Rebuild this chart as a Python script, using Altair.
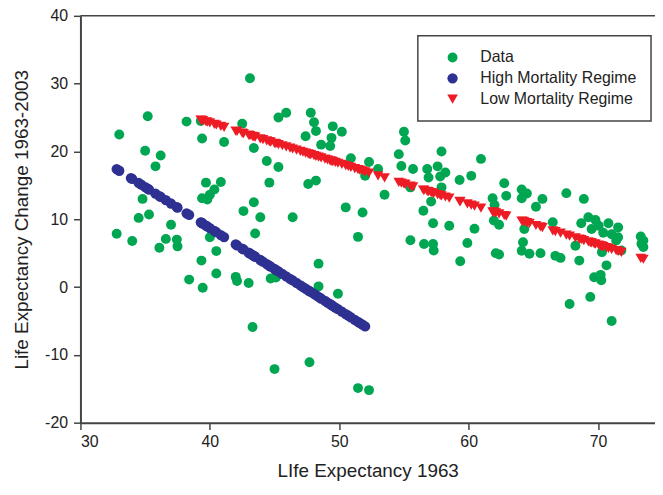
import altair as alt
import pandas as pd

# ---- data ----
data_x = [33.0, 35.2, 35.0, 36.2, 35.8, 34.8, 34.5, 35.3, 37.0, 32.8, 34.0, 36.1, 36.6, 37.45, 37.5,
          38.2, 39.3, 39.4, 41.1, 42.5, 43.1, 43.4, 44.4, 45.3, 45.3, 45.9, 44.6, 39.7, 40.85, 40.35,
          40.0, 39.4, 39.8, 43.4, 42.6, 43.9, 46.4, 40.0, 43.5, 40.5, 39.35, 40.5, 38.4, 39.45, 42.0,
          42.1, 43.0, 44.7, 45.1, 43.3, 45.0, 47.8, 48.05, 48.2, 49.5, 50.2, 47.4, 49.4, 48.6, 49.3,
          50.9, 52.3, 53.0, 52.0, 47.6, 48.2, 53.5, 50.5, 51.8, 51.45, 48.4, 48.4, 49.9, 47.7, 51.45,
          52.3, 55.0, 55.1, 54.6, 54.8, 55.7, 57.9, 56.8, 57.6, 58.2, 56.9, 57.8, 59.3, 60.2, 57.9,
          55.5, 57.1, 56.5, 57.25, 58.5, 55.5, 56.55, 57.25, 57.3, 59.9, 59.35, 60.95, 62.75, 62.9, 64.1,
          64.5, 64.1, 65.7, 65.2, 67.55, 68.9, 61.85, 62.0, 66.5, 69.25, 69.8, 70.8, 71.55, 68.7, 70.4,
          69.5, 70.05, 60.45, 62.35, 61.95, 64.3, 73.3, 62.1, 62.35, 64.2, 64.1, 64.7, 65.55, 66.7, 67.1,
          68.55, 68.25, 70.3, 71.8, 71.4, 70.65, 69.7, 70.2, 70.25, 69.4, 67.8, 71.05, 73.35, 73.5, 73.5,
          71.05, 71.55]
data_y = [22.5, 25.2, 20.1, 19.4, 17.8, 13.0, 10.2, 10.7, 9.2, 7.85, 6.8, 5.8, 7.1, 7.0, 6.0,
          24.4, 24.5, 21.9, 21.4, 24.1, 30.8, 20.5, 18.6, 17.7, 25.0, 25.7, 15.4, 15.4, 15.5, 14.4,
          13.6, 13.1, 12.9, 12.5, 11.2, 10.3, 10.3, 7.35, 7.9, 5.3, 3.9, 2.0, 1.1, -0.1, 1.5,
          0.9, 0.6, 1.25, 1.4, -5.9, -12.1, 25.7, 24.3, 23.0, 23.7, 22.9, 22.25, 22.0, 21.0, 20.8,
          19.0, 18.45, 17.4, 16.4, 15.2, 15.7, 13.6, 11.75, 11.0, 7.4, 3.45, 0.1, -1.0, -11.1, -14.9,
          -15.2, 22.9, 21.6, 19.6, 17.85, 17.4, 20.0, 17.4, 17.8, 16.9, 16.15, 16.3, 15.8, 16.4, 14.7,
          14.7, 12.6, 11.25, 9.4, 9.05, 6.9, 6.35, 6.35, 5.4, 6.5, 3.8, 18.9, 15.3, 13.45, 14.4,
          13.8, 13.1, 13.0, 11.85, 13.85, 13.0, 13.1, 12.1, 9.55, 10.3, 9.9, 9.4, 8.8, 9.4, 8.0,
          8.55, 9.05, 8.6, 9.2, 9.8, 8.55, 7.45, 5.0, 4.8, 6.6, 5.35, 4.9, 5.0, 4.6, 4.3,
          3.9, 6.1, 5.15, 5.4, 6.85, 3.2, 1.45, 1.8, 1.0, -1.45, -2.5, -5.0, 6.4, 5.9, 6.85,
          7.8, 7.35]

high_x = [32.8, 33.0, 33.9, 34.0, 34.5, 34.7, 35.0, 35.2, 35.3, 35.8, 36.1, 36.2, 36.6, 37.0, 37.45,
          37.5, 38.2, 38.4, 39.3, 39.35, 39.4, 39.45, 39.7, 39.8, 40.0, 40.35, 40.5, 40.85, 41.1, 42.0,
          42.1, 42.5, 42.6, 43.0, 43.1, 43.3, 43.4, 43.5, 43.9, 44.1, 44.4, 44.6, 44.7, 45.0, 45.1,
          45.3, 45.6, 45.9, 46.2, 46.4, 46.7, 47.0, 47.2, 47.4, 47.6, 47.7, 47.8, 48.05, 48.2, 48.4,
          48.6, 48.9, 49.1, 49.3, 49.4, 49.5, 49.7, 49.9, 50.2, 50.5, 50.7, 50.9, 51.2, 51.45, 51.6,
          51.8, 52.0]
high_y = [17.4, 17.15, 16.07, 15.95, 15.35, 15.1, 14.74, 14.5, 14.38, 13.77, 13.41, 13.29, 12.81, 12.32, 11.78,
          11.72, 10.87, 10.63, 9.55, 9.49, 9.42, 9.36, 9.06, 8.94, 8.7, 8.28, 8.1, 7.67, 7.37, 6.28,
          6.16, 5.68, 5.56, 5.08, 4.95, 4.71, 4.59, 4.47, 3.99, 3.75, 3.39, 3.14, 3.02, 2.66, 2.54,
          2.3, 1.94, 1.57, 1.21, 0.97, 0.6, 0.24, 0.0, -0.24, -0.48, -0.6, -0.72, -1.02, -1.2, -1.45,
          -1.69, -2.05, -2.29, -2.53, -2.65, -2.77, -3.02, -3.26, -3.62, -3.98, -4.22, -4.47, -4.83, -5.13, -5.31,
          -5.55, -5.8]

low_x = [39.3, 39.35, 39.4, 39.45, 39.7, 39.8, 40.0, 40.35, 40.5, 40.85, 41.1, 42.0, 42.1, 42.5, 42.6,
         43.0, 43.1, 43.3, 43.4, 43.5, 43.9, 44.1, 44.4, 44.6, 44.7, 45.0, 45.1, 45.3, 45.6, 45.9,
         46.2, 46.4, 46.7, 47.0, 47.2, 47.4, 47.6, 47.7, 47.8, 48.05, 48.2, 48.4, 48.6, 48.9, 49.1,
         49.3, 49.4, 49.5, 49.7, 49.9, 50.2, 50.5, 50.7, 50.9, 51.2, 51.45, 51.6, 51.8, 52.0, 52.3,
         53.0, 53.5, 54.6, 54.8, 55.0, 55.1, 55.5, 55.7, 56.5, 56.55, 56.8, 56.9,
         57.1, 57.25, 57.3, 57.6, 57.8, 57.9, 58.2, 58.5, 59.3, 59.35, 59.9, 60.2, 60.45, 60.95, 61.85,
         61.95, 62.0, 62.1, 62.35, 62.75, 62.9, 64.1, 64.2, 64.3, 64.5, 64.7, 65.2, 65.55, 65.7, 66.5,
         66.7, 67.1, 67.55, 67.8, 68.25, 68.55, 68.7, 68.9, 69.25, 69.4, 69.5, 69.7, 69.8, 70.05, 70.2,
         70.25, 70.3, 70.4, 70.65, 70.8, 71.05, 71.4, 71.55, 71.8, 73.3, 73.5]
low_y = [24.62, 24.59, 24.56, 24.53, 24.38, 24.32, 24.2, 23.99, 23.9, 23.69, 23.54, 23.0, 22.94, 22.7, 22.64,
         22.4, 22.34, 22.22, 22.16, 22.1, 21.86, 21.74, 21.56, 21.44, 21.38, 21.2, 21.14, 21.02, 20.84, 20.66,
         20.48, 20.36, 20.18, 20.0, 19.88, 19.76, 19.64, 19.58, 19.52, 19.37, 19.28, 19.16, 19.04, 18.86, 18.74,
         18.62, 18.56, 18.5, 18.38, 18.26, 18.08, 17.9, 17.78, 17.66, 17.48, 17.33, 17.24, 17.12, 17.0, 16.82,
         16.4, 16.1, 15.44, 15.32, 15.2, 15.14, 14.9, 14.78, 14.3, 14.27, 14.12, 14.06,
         13.94, 13.85, 13.82, 13.64, 13.52, 13.46, 13.28, 13.1, 12.62, 12.59, 12.26, 12.08, 11.93, 11.63, 11.09,
         11.03, 11.0, 10.94, 10.79, 10.55, 10.46, 9.74, 9.68, 9.62, 9.5, 9.38, 9.08, 8.87, 8.78, 8.3,
         8.18, 7.94, 7.67, 7.52, 7.25, 7.07, 6.98, 6.86, 6.65, 6.56, 6.5, 6.38, 6.32, 6.17, 6.08,
         6.05, 6.02, 5.96, 5.81, 5.72, 5.57, 5.36, 5.27, 5.12, 4.22, 4.1]

series_names = ["Data", "High Mortality Regime", "Low Mortality Regime"]
series_colors = ["#00A651", "#2E3192", "#ED1C24"]
series_shapes = ["circle", "circle", "triangle-down"]
series_sizes = [100, 115, 170]
x_ticks = [30, 40, 50, 60, 70]
y_ticks = [-20, -10, 0, 10, 20, 30, 40]

rows = []
for i, (xs, ys) in enumerate([(data_x, data_y), (high_x, high_y), (low_x, low_y)]):
    for x, y in zip(xs, ys):
        rows.append({"x": x, "y": y, "series": series_names[i], "order": i})
df = pd.DataFrame(rows)

FONT = "Liberation Sans"

legend_cfg = dict(
    title=None, orient="none", legendX=340, legendY=20,
    strokeColor="#444444", fillColor="white",
    padding=14, symbolOffset=13, labelOffset=20,
    labelFontSize=16, labelFont=FONT, labelColor="#222222",
    symbolSize=115, rowPadding=5, symbolStrokeWidth=0,
)

points = alt.Chart(df).mark_point(filled=True, opacity=1).encode(
    x=alt.X("x:Q",
            scale=alt.Scale(domain=[30, 74.4], nice=False, zero=False),
            axis=alt.Axis(values=x_ticks, title="LIfe Expectancy 1963", grid=False,
                          tickSize=7, labelPadding=4, titlePadding=12, labelExpr="toString(datum.value)")),
    y=alt.Y("y:Q",
            scale=alt.Scale(domain=[-20, 40], nice=False, zero=False),
            axis=alt.Axis(values=y_ticks, title="Life Expectancy Change 1963-2003", grid=False,
                          tickSize=7, labelPadding=6, titlePadding=13, labelExpr="toString(datum.value)")),
    color=alt.Color("series:N", scale=alt.Scale(domain=series_names, range=series_colors),
                    legend=alt.Legend(**legend_cfg)),
    shape=alt.Shape("series:N", scale=alt.Scale(domain=series_names, range=series_shapes),
                    legend=alt.Legend(**legend_cfg)),
    size=alt.Size("series:N", scale=alt.Scale(domain=series_names, range=series_sizes), legend=None),
    order=alt.Order("order:Q"),
)

top_line = alt.Chart(pd.DataFrame({"y": [40]})).mark_rule(color="#444444", strokeWidth=1.5).encode(
    y=alt.Y("y:Q")
)

chart = alt.layer(points, top_line).properties(
    width=579, height=410,
    autosize=alt.AutoSizeParams(type="none"),
    padding={"left": 73, "top": 6, "right": 0, "bottom": 70},
).configure_view(stroke=None).configure_axis(
    labelFont=FONT, labelFontSize=16, labelColor="#222222",
    titleFont=FONT, titleFontSize=19, titleFontWeight="normal", titleColor="#222222",
    domainColor="#444444", domainWidth=2, tickColor="#444444", tickWidth=1.5,
).configure_legend(strokeWidth=1.5)

chart.save("out.html", embed_options={"renderer": "svg", "actions": False})
